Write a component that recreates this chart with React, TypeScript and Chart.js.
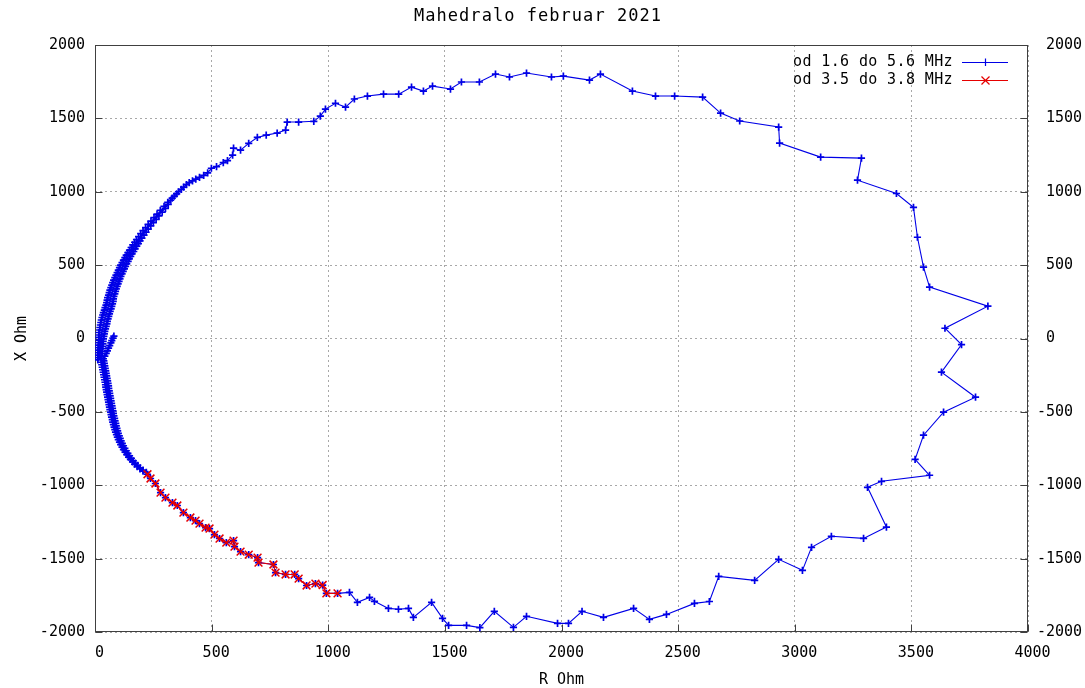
import React, { useEffect, useRef } from 'react';
import { Chart, registerables } from 'chart.js';

Chart.register(...registerables);

const TITLE = 'Mahedralo februar 2021';
const R_TITLE = 'R Ohm';
const X_TITLE = 'X Ohm';
const SERIES_LABELS = ['od 1.6 do 5.6 MHz', 'od 3.5 do 3.8 MHz'];
const R_TICKS = [0, 500, 1000, 1500, 2000, 2500, 3000, 3500, 4000];
const X_TICKS = [-2000, -1500, -1000, -500, 0, 500, 1000, 1500, 2000];

// [R, X] pairs, in frequency order
const upperLeftSweep: [number, number][] = [
  [12, -146], [27, -138], [13, -130], [30, -121], [12, -113], [29, -104], [14, -96], [31, -87],
  [13, -79], [32, -70], [15, -62], [33, -53], [14, -45], [34, -36], [16, -28], [35, -19],
  [17, -11], [36, -2], [16, 7], [38, 15], [18, 24], [40, 32], [17, 41], [42, 49],
  [20, 58], [45, 66], [21, 75], [48, 83], [23, 92], [51, 100], [25, 109], [53, 117],
  [27, 126], [56, 134], [30, 143], [59, 151], [33, 160], [62, 168], [36, 177], [65, 185],
  [40, 194], [69, 202], [43, 211], [72, 219], [47, 228], [75, 236], [50, 245], [78, 253],
  [52, 262], [79, 270], [54, 279], [81, 287], [58, 296], [85, 304], [61, 313], [88, 321],
  [64, 330], [91, 338], [68, 347], [95, 355], [72, 364], [99, 372], [76, 381], [103, 389],
  [80, 398], [107, 406], [85, 415], [111, 423], [90, 432], [116, 440], [95, 449], [121, 457],
  [100, 466], [126, 474], [105, 483], [131, 491], [110, 500], [136, 508], [116, 517], [142, 525],
  [122, 534], [147, 542], [128, 551], [153, 559], [134, 568], [159, 576], [141, 585], [166, 593],
  [148, 602], [172, 611], [155, 620], [179, 629], [162, 638], [186, 647], [170, 656], [193, 665],
  [178, 674], [201, 684], [187, 694], [210, 704], [196, 714], [219, 724], [206, 735], [228, 745],
  [217, 756], [239, 767], [228, 778], [250, 789], [240, 800], [262, 812], [253, 824], [274, 836],
  [266, 848], [288, 861], [280, 874], [302, 887], [296, 900], [314, 914], [312, 928], [324, 942],
  [331, 956], [340, 970], [350, 985], [358, 1000], [370, 1016], [380, 1032], [392, 1048], [404, 1062],
  [418, 1074], [432, 1086], [448, 1098], [466, 1112], [483, 1128], [499, 1160], [521, 1171], [550, 1198],
  [568, 1212], [590, 1250],
];

const topRightBottomSweep: [number, number][] = [
  [594, 1297], [624, 1283], [659, 1330], [696, 1370], [734, 1386], [781, 1400], [817, 1420], [824, 1475],
  [873, 1475], [938, 1480], [966, 1515], [988, 1563], [1031, 1603], [1074, 1577], [1112, 1632], [1168, 1652],
  [1237, 1665], [1302, 1665], [1357, 1713], [1408, 1686], [1447, 1720], [1524, 1700], [1571, 1748], [1648, 1748],
  [1717, 1802], [1777, 1782], [1850, 1809], [1957, 1782], [2008, 1788], [2120, 1761], [2167, 1802], [2304, 1686],
  [2403, 1652], [2485, 1652], [2605, 1645], [2682, 1536], [2764, 1482], [2931, 1441], [2935, 1332], [3111, 1236],
  [3286, 1229], [3269, 1079], [3436, 988], [3509, 894], [3526, 690], [3552, 486], [3578, 350], [3828, 220],
  [3644, 70], [3715, -42], [3629, -229], [3775, -400], [3638, -502], [3552, -659], [3516, -823], [3578, -932],
  [3372, -973], [3312, -1014], [3393, -1285], [3295, -1362], [3157, -1348], [3072, -1423], [3033, -1580], [2931, -1505],
  [2828, -1648], [2674, -1621], [2634, -1792], [2570, -1805], [2450, -1880], [2377, -1914], [2309, -1839], [2180, -1900],
  [2088, -1859], [2030, -1941], [1983, -1941], [1850, -1893], [1794, -1968], [1712, -1859], [1650, -1970], [1593, -1955],
  [1516, -1955], [1490, -1907], [1443, -1798], [1365, -1900], [1344, -1839], [1301, -1845], [1258, -1839], [1198, -1791],
  [1177, -1764], [1125, -1798], [1091, -1730],
];

// 3.5 - 3.8 MHz
const band80m: [number, number][] = [
  [1040, -1737], [992, -1737], [976, -1680], [945, -1670], [907, -1683], [873, -1636], [856, -1608], [817, -1608],
  [774, -1595], [765, -1540], [701, -1527], [697, -1493], [659, -1473], [624, -1452], [598, -1418], [594, -1377],
  [563, -1391], [534, -1363], [512, -1336], [491, -1295], [474, -1289], [448, -1261], [431, -1241], [409, -1220],
  [379, -1186], [353, -1138], [332, -1118], [302, -1084], [281, -1050], [259, -988], [238, -954], [225, -925],
];

const lowerLeftSweep: [number, number][] = [
  [220, -912], [206, -904], [206, -897], [193, -889], [194, -881], [181, -873], [183, -865], [170, -857],
  [173, -849], [161, -841], [164, -833], [152, -824], [156, -816], [144, -808], [148, -799], [136, -791],
  [141, -782], [129, -774], [134, -765], [122, -757], [128, -748], [116, -740], [122, -731], [110, -723],
  [117, -714], [105, -706], [112, -697], [100, -689], [108, -680], [96, -672], [104, -663], [92, -655],
  [100, -646], [88, -638], [97, -629], [85, -621], [94, -612], [82, -604], [91, -595], [79, -587],
  [89, -578], [76, -570], [86, -561], [74, -553], [84, -544], [71, -536], [81, -527], [69, -519],
  [79, -510], [67, -502], [77, -493], [64, -485], [75, -476], [62, -468], [73, -459], [60, -451],
  [71, -442], [58, -434], [69, -425], [56, -417], [67, -408], [54, -400], [65, -391], [52, -383],
  [63, -374], [50, -366], [61, -357], [48, -349], [59, -340], [46, -332], [58, -323], [45, -315],
  [56, -306], [43, -298], [54, -289], [41, -281], [52, -272], [39, -264], [50, -255], [37, -247],
  [48, -238], [35, -230], [46, -221], [33, -213], [44, -204], [31, -196], [42, -187], [29, -179],
  [40, -170], [27, -162], [38, -153],
];

const hookEnd: [number, number][] = [
  [36, -138], [42, -120], [48, -102], [53, -84], [58, -66], [63, -48], [68, -30], [72, -14], [77, 2], [81, 16],
];

const BLUE = '#0000e6';
const RED = '#e60000';
const FONT = "'DejaVu Sans Mono', 'Liberation Mono', monospace";

const fmt = (v: number) => (v < 0 ? String(v) : ' ' + String(v));

const toPts = (arr: [number, number][]) => arr.map(([r, x]) => ({ x: r, y: x }));

const drawSpaced = (ctx: any, text: string, x: number, y: number, targetWidth: number) => {
  ctx.textAlign = 'left';
  const base = ctx.measureText(text).width;
  if ('letterSpacing' in ctx) {
    ctx.letterSpacing = ((targetWidth - base) / text.length).toFixed(2) + 'px';
    ctx.fillText(text, x, y);
    ctx.letterSpacing = '0px';
  } else {
    ctx.fillText(text, x + (targetWidth - base) / 2, y);
  }
};

const gnuplotDecor = {
  id: 'gnuplotDecor',
  beforeDatasetsDraw(chart: any) {
    const { ctx, chartArea } = chart;
    const l = Math.round(chartArea.left) + 0.5;
    const r = Math.round(chartArea.right) - 0.5;
    const t = Math.round(chartArea.top) + 0.5;
    const b = Math.round(chartArea.bottom) - 0.5;
    ctx.save();
    ctx.strokeStyle = '#404040';
    ctx.lineWidth = 1;
    ctx.setLineDash([]);
    ctx.strokeRect(l, t, r - l, b - t);
    ctx.beginPath();
    const xs = chart.scales.x;
    R_TICKS.forEach((v) => {
      const px = Math.round(xs.getPixelForValue(v)) + 0.5;
      ctx.moveTo(px, b);
      ctx.lineTo(px, b - 7);
    });
    const ys = chart.scales.y;
    X_TICKS.forEach((v) => {
      const py = Math.round(ys.getPixelForValue(v)) + 0.5;
      ctx.moveTo(l, py);
      ctx.lineTo(l + 7, py);
      ctx.moveTo(r, py);
      ctx.lineTo(r - 7, py);
    });
    ctx.stroke();
    ctx.restore();
  },
  afterDraw(chart: any) {
    const { ctx } = chart;
    ctx.save();
    ctx.fillStyle = '#000';
    ctx.textBaseline = 'middle';
    ctx.font = `17px ${FONT}`;
    drawSpaced(ctx, TITLE, 414, 17, 248);
    ctx.font = `15px ${FONT}`;
    const rows = [
      { label: SERIES_LABELS[0], color: BLUE, y: 62, style: 'plus' },
      { label: SERIES_LABELS[1], color: RED, y: 80, style: 'x' },
    ];
    rows.forEach((row) => {
      ctx.fillStyle = '#000';
      drawSpaced(ctx, row.label, 793, row.y, 160);
      ctx.strokeStyle = row.color;
      ctx.lineWidth = 1.2;
      ctx.beginPath();
      ctx.moveTo(962, row.y + 0.5);
      ctx.lineTo(1008, row.y + 0.5);
      if (row.style === 'plus') {
        ctx.moveTo(985.5, row.y - 3.5);
        ctx.lineTo(985.5, row.y + 4);
      } else {
        ctx.moveTo(981.5, row.y - 3.5);
        ctx.lineTo(989.5, row.y + 4.5);
        ctx.moveTo(989.5, row.y - 3.5);
        ctx.lineTo(981.5, row.y + 4.5);
      }
      ctx.stroke();
    });
    ctx.restore();
  },
};

export default function App() {
  const ref = useRef<HTMLCanvasElement | null>(null);
  useEffect(() => {
    if (!ref.current) return;
    document.body.style.margin = '0';
    const blueData = [
      ...upperLeftSweep,
      ...topRightBottomSweep,
      ...band80m,
      ...lowerLeftSweep,
      ...hookEnd,
    ];
    const gridCommon = {
      color: '#a8a8a8',
      lineWidth: 1,
      drawTicks: false,
    };
    const chart = new Chart(ref.current, {
      type: 'scatter',
      data: {
        datasets: [
          {
            label: SERIES_LABELS[0],
            data: toPts(blueData),
            showLine: true,
            borderColor: BLUE,
            borderWidth: 1.1,
            pointStyle: 'cross',
            pointRadius: 3.6,
            pointBorderWidth: 1.7,
            pointBorderColor: BLUE,
            pointBackgroundColor: BLUE,
            order: 2,
          } as any,
          {
            label: SERIES_LABELS[1],
            data: toPts(band80m),
            showLine: true,
            borderColor: RED,
            borderWidth: 1.1,
            pointStyle: 'crossRot',
            pointRadius: 5.5,
            pointBorderWidth: 1.5,
            pointBorderColor: RED,
            pointBackgroundColor: RED,
            order: 1,
          } as any,
        ],
      },
      options: {
        responsive: false,
        animation: false,
        events: [],
        layout: { padding: { top: 45, left: 0, right: 0, bottom: 0 } },
        plugins: {
          legend: { display: false },
          tooltip: { enabled: false },
          title: { display: false },
        },
        scales: {
          x: {
            type: 'linear',
            position: 'bottom',
            min: 0,
            max: 4000,
            afterBuildTicks: (s: any) => { s.ticks = R_TICKS.map((v) => ({ value: v })); },
            afterFit: (s: any) => { s.height = 56; },
            grid: gridCommon,
            border: { display: false, dash: [2, 3] },
            ticks: {
              padding: 12,
              maxRotation: 0,
              color: '#000',
              font: { family: FONT, size: 15 },
              callback: (v: any) => fmt(Number(v)),
            },
            title: {
              display: true,
              text: R_TITLE,
              color: '#000',
              font: { family: FONT, size: 15, lineHeight: 1 },
              padding: { top: 0, bottom: 0 },
            },
          },
          y: {
            type: 'linear',
            position: 'left',
            min: -2000,
            max: 2000,
            afterBuildTicks: (s: any) => { s.ticks = X_TICKS.map((v) => ({ value: v })); },
            afterFit: (s: any) => { s.width = 95; },
            grid: gridCommon,
            border: { display: false, dash: [2, 3] },
            ticks: {
              padding: 10,
              color: '#000',
              font: { family: FONT, size: 15 },
              callback: (v: any) => fmt(Number(v)),
            },
            title: {
              display: true,
              text: X_TITLE,
              color: '#000',
              font: { family: FONT, size: 15 },
              padding: { top: 13, bottom: 0 },
            },
          },
          y2: {
            type: 'linear',
            position: 'right',
            min: -2000,
            max: 2000,
            afterBuildTicks: (s: any) => { s.ticks = X_TICKS.map((v) => ({ value: v })); },
            afterFit: (s: any) => { s.width = 57; },
            grid: { drawOnChartArea: false, drawTicks: false },
            border: { display: false },
            ticks: {
              padding: 9,
              color: '#000',
              font: { family: FONT, size: 15 },
              callback: (v: any) => fmt(Number(v)),
            },
          },
        },
      } as any,
      plugins: [gnuplotDecor],
    });
    return () => chart.destroy();
  }, []);
  return (
    <div style={{ position: 'fixed', left: 0, top: 0, width: 1085, height: 688, background: '#fff' }}>
      <canvas ref={ref} width={1085} height={688} style={{ display: 'block' }} />
    </div>
  );
}
